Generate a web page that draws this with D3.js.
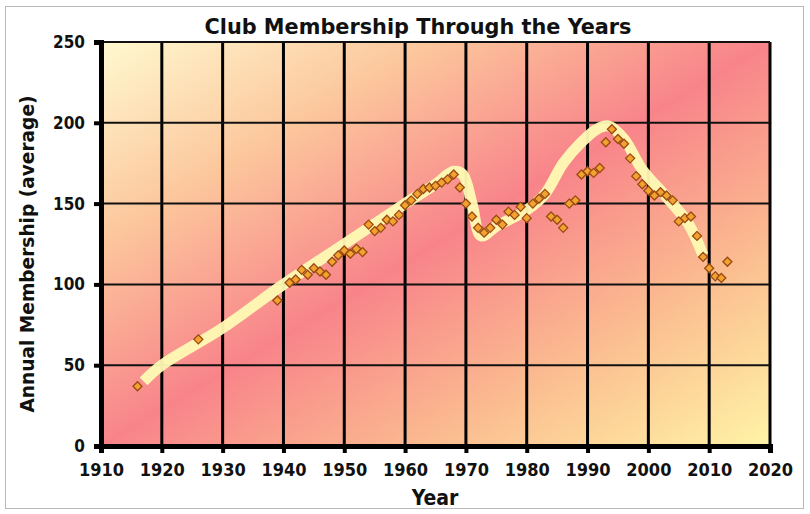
<!DOCTYPE html>
<html>
<head>
<meta charset="utf-8">
<script src="https://cdn.jsdelivr.net/npm/d3@7/dist/d3.min.js"></script>
<style>
  html, body { margin: 0; padding: 0; background: #fff; }
  svg { display: block; }
  text { font-family: "DejaVu Sans Condensed", "DejaVu Sans", sans-serif; font-weight: bold; fill: #111; }
</style>
</head>
<body>
<script>
// ---- data ----
const years = [1916,1926,1939,1941,1942,1943,1944,1945,1946,1947,1948,1949,1950,1951,1952,1953,
  1954,1955,1956,1957,1958,1959,1960,1961,1962,1963,1964,1965,1966,1967,1968,1969,1970,1971,1972,
  1973,1974,1975,1976,1977,1978,1979,1980,1981,1982,1983,1984,1985,1986,1987,1988,1989,1990,1991,
  1992,1993,1994,1995,1996,1997,1998,1999,2000,2001,2002,2003,2004,2005,2006,2007,2008,2009,2010,
  2011,2012,2013];
const members = [37,66,90,101,103,109,106,110,108,106,114,118,121,119,122,120,
  137,133,135,140,139,143,149,152,156,159,160,161,163,165,168,160,150,142,135,
  132,135,140,137,145,143,148,141,150,153,156,142,140,135,150,152,168,170,169,
  172,188,196,190,187,178,167,162,158,155,157,155,152,139,141,142,130,117,110,
  105,104,114];
const trendYears = [1917,1920,1930,1940,1950,1960,1965,1968,1969.5,1971,1972.5,1975,1980,1983,1986,1989,1991.5,1993.5,1996,1999,2003,2006.5,2009];
const trendValues = [40,50,73,100,125,150,162,170,168,150,130,136,146,156,175,188,196,198,190,171,154,138,118];
const xTicks = [1910,1920,1930,1940,1950,1960,1970,1980,1990,2000,2010,2020];
const yTicks = [0,50,100,150,200,250];
const titleText = "Club Membership Through the Years";
const xTitle = "Year";
const yTitle = "Annual Membership (average)";

const W = 810, H = 514;
const m = {left: 101, right: 770, top: 42, bottom: 446};

const svg = d3.select("body").append("svg").attr("width", W).attr("height", H);

// outer frame
svg.append("rect").attr("x", 5.5).attr("y", 6.5).attr("width", 798).attr("height", 502)
  .attr("fill", "#fff").attr("stroke", "#b8b8b8").attr("stroke-width", 1);

const x = d3.scaleLinear().domain([1910, 2020]).range([m.left, m.right]);
const y = d3.scaleLinear().domain([0, 250]).range([m.bottom, m.top]);

// gradient background
const defs = svg.append("defs");
const grad = defs.append("linearGradient").attr("id", "bg")
  .attr("x1", 0).attr("y1", 0).attr("x2", 1).attr("y2", 1);
grad.append("stop").attr("offset", "0").attr("stop-color", "#fff9d0");
grad.append("stop").attr("offset", "0.25").attr("stop-color", "#fcc69c");
grad.append("stop").attr("offset", "0.5").attr("stop-color", "#f8848a");
grad.append("stop").attr("offset", "0.75").attr("stop-color", "#fbbd90");
grad.append("stop").attr("offset", "1").attr("stop-color", "#fff4a6");

svg.append("rect").attr("x", m.left).attr("y", m.top)
  .attr("width", m.right - m.left).attr("height", m.bottom - m.top)
  .attr("fill", "url(#bg)");

// grid
const g = svg.append("g");
g.selectAll("line.vg").data(xTicks.slice(1)).join("line")
  .attr("x1", d => x(d)).attr("x2", d => x(d))
  .attr("y1", m.top).attr("y2", m.bottom)
  .attr("stroke", "#000").attr("stroke-width", 3);
g.selectAll("line.hg").data(yTicks.slice(1)).join("line")
  .attr("x1", m.left).attr("x2", m.right)
  .attr("y1", d => y(d)).attr("y2", d => y(d))
  .attr("stroke", "#111").attr("stroke-width", 2);

// axes
const yAxis = d3.axisLeft(y).tickValues(yTicks).tickSize(7).tickPadding(9);
const ya = svg.append("g").attr("transform", `translate(${m.left},0)`).call(yAxis);
ya.select(".domain").attr("stroke", "#000").attr("stroke-width", 5);
ya.selectAll(".tick line").attr("stroke", "#000").attr("stroke-width", 4);
ya.selectAll(".tick text").attr("font-size", 17).attr("font-family", "DejaVu Sans Condensed").attr("font-weight", "bold").attr("fill", "#111");

const xAxis = d3.axisBottom(x).tickValues(xTicks).tickFormat(d3.format("d")).tickSize(7).tickPadding(10);
const xa = svg.append("g").attr("transform", `translate(0,${m.bottom})`).call(xAxis);
xa.select(".domain").attr("stroke", "#000").attr("stroke-width", 5);
xa.selectAll(".tick line").attr("stroke", "#000").attr("stroke-width", 4);
xa.selectAll(".tick text").attr("font-size", 18).attr("font-family", "DejaVu Sans Condensed").attr("font-weight", "bold").attr("fill", "#111");

// trend line
const trend = trendYears.map((d, i) => [d, trendValues[i]]);
svg.append("path").datum(trend)
  .attr("d", d3.line().x(d => x(d[0])).y(d => y(d[1])).curve(d3.curveCatmullRom.alpha(0.5)))
  .attr("fill", "none").attr("stroke", "#fffab4").attr("stroke-width", 11)
  .attr("stroke-linecap", "butt").attr("opacity", 0.95);

// points
const pts = years.map((d, i) => [d, members[i]]);
const diamond = d3.symbol().type(d3.symbolDiamond2).size(52);
svg.append("g").selectAll("path").data(pts).join("path")
  .attr("transform", d => `translate(${x(d[0])},${y(d[1])})`)
  .attr("d", diamond)
  .attr("fill", "#f2a22e").attr("stroke", "#9a4a12").attr("stroke-width", 1.3);

// titles
svg.append("text").attr("x", 418).attr("y", 34).attr("text-anchor", "middle")
  .attr("font-size", 21).attr("textLength", 427).attr("lengthAdjust", "spacingAndGlyphs")
  .text(titleText);
svg.append("text").attr("x", 435).attr("y", 505).attr("text-anchor", "middle")
  .attr("font-size", 21).text(xTitle);
svg.append("text").attr("transform", `translate(34,${(m.top + m.bottom) / 2 + 10}) rotate(-90)`)
  .attr("text-anchor", "middle").attr("font-size", 19)
  .attr("textLength", 317).attr("lengthAdjust", "spacingAndGlyphs").text(yTitle);
</script>
</body>
</html>
